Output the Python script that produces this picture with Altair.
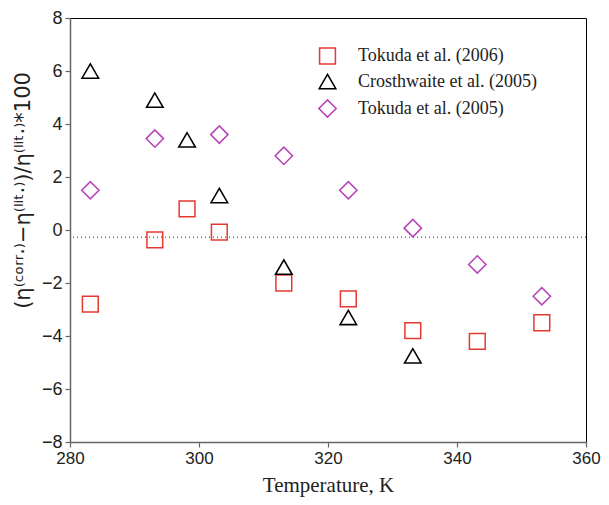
import altair as alt
import pandas as pd

series_names = ["Tokuda et al. (2006)", "Crosthwaite et al. (2005)", "Tokuda et al. (2005)"]

t2006_T = [283.15, 293.15, 298.15, 303.15, 313.15, 323.15, 333.15, 343.15, 353.15]
t2006_v = [-2.8, -0.37, 0.8, -0.08, -2.0, -2.6, -3.8, -4.2, -3.5]

c2005_T = [283.15, 293.15, 298.15, 303.15, 313.15, 323.15, 333.15]
c2005_v = [6.0, 4.9, 3.4, 1.3, -1.4, -3.3, -4.75]

t2005_T = [283.15, 293.15, 303.15, 313.15, 323.15, 333.15, 343.15, 353.15]
t2005_v = [1.5, 3.45, 3.6, 2.8, 1.5, 0.07, -1.3, -2.5]

ref_level = [-0.27]

rows = []
for name, Ts, vs in zip(series_names, [t2006_T, c2005_T, t2005_T], [t2006_v, c2005_v, t2005_v]):
    for T, v in zip(Ts, vs):
        rows.append({"T": T, "v": v, "series": name})
df = pd.DataFrame(rows)

xscale = alt.Scale(domain=[280, 360], nice=False, zero=False)
yscale = alt.Scale(domain=[-8, 8], nice=False)

legend = alt.Legend(
    title=None, orient="none", legendX=248, legendY=29,
    labelFont="Liberation Serif", labelFontSize=18, labelColor="#222", labelLimit=0,
    symbolStrokeWidth=1.6, rowPadding=4, labelOffset=21, symbolSize=260,
)

points = alt.Chart(df).mark_point(filled=False, opacity=1).encode(
    x=alt.X("T:Q", scale=xscale,
            axis=alt.Axis(values=[280, 300, 320, 340, 360], title="Temperature, K",
                          labelFontSize=17)),
    y=alt.Y("v:Q", scale=yscale,
            axis=alt.Axis(values=[-8, -6, -4, -2, 0, 2, 4, 6, 8],
                          title="(η⁽ᶜᵒʳʳ·⁾−η⁽ˡⁱᵗ·⁾)/η⁽ˡⁱᵗ·⁾*100", titleY=172)),
    color=alt.Color("series:N", scale=alt.Scale(domain=series_names,
                                                range=["#e5392f", "#000000", "#b946b9"]),
                    legend=legend),
    shape=alt.Shape("series:N", scale=alt.Scale(domain=series_names,
                                                range=["square", "triangle-up", "diamond"]),
                    legend=legend),
    size=alt.Size("series:N", scale=alt.Scale(domain=series_names, range=[250, 300, 480]),
                  legend=legend),
    strokeWidth=alt.StrokeWidth("series:N", scale=alt.Scale(domain=series_names, range=[1.5, 1.6, 2.2]),
                                legend=legend),
)

rule = alt.Chart(pd.DataFrame({"y": ref_level})).mark_rule(
    color="#222", strokeDash=[1, 3], strokeWidth=1
).encode(y=alt.Y("y:Q", scale=yscale))

chart = (rule + points).properties(
    width=516, height=424,
    autosize=alt.AutoSizeParams(type="none"),
    padding={"left": 62, "top": 10, "right": 15, "bottom": 55},
).configure_view(stroke="#000", strokeWidth=1).configure_axis(
    labelFont="Liberation Sans", labelFontSize=18, labelColor="#222", labelFlush=False,
    domainColor="#666", domainWidth=1.5, tickColor="#666", tickSize=5, tickWidth=1.2,
    grid=False, labelPadding=3,
).configure_axisX(
    titleFont="Liberation Serif", titleFontSize=21, titleFontWeight="normal",
    titleColor="#222", titlePadding=8,
).configure_axisY(
    titleFont="DejaVu Sans", titleFontSize=21, titleFontWeight="normal",
    titleColor="#222", titlePadding=8,
)

chart.save("out.html", embed_options={"renderer": "svg", "actions": False})
